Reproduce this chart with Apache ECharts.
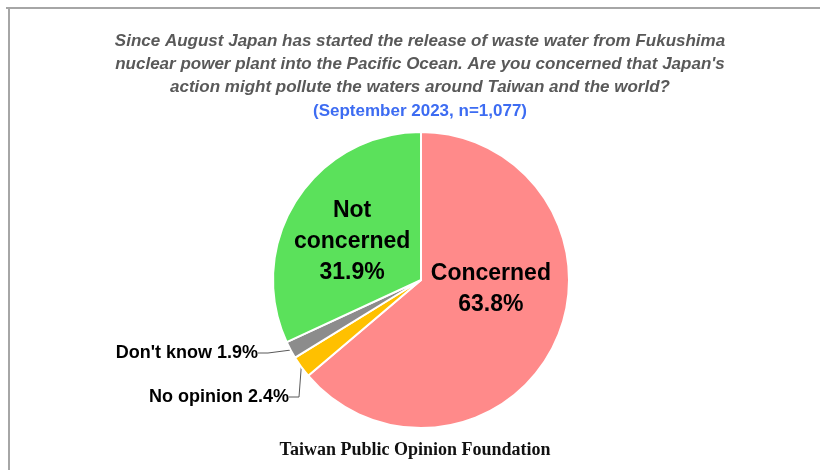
<!DOCTYPE html>
<html>
<head>
<meta charset="utf-8">
<script src="https://cdn.jsdelivr.net/npm/echarts@6/dist/echarts.min.js"></script>
<style>
  html, body { margin: 0; padding: 0; background: #fff; }
  #chart { width: 820px; height: 470px; }
</style>
</head>
<body>
<div id="chart"></div>
<script>
const categories = ["Concerned", "No opinion", "Don't know", "Not concerned"]
const shares = [63.8, 2.4, 1.9, 31.9]
const sliceColors = ["#FF8A8A", "#FFC000", "#8C8C8C", "#5BE15B"]

const font = "'Liberation Sans', sans-serif"

const myChart = echarts.init(document.getElementById("chart"))

const data = categories.map((name, i) => {
  const item = {name, value: shares[i], itemStyle: {color: sliceColors[i]}}
  if (i === 0) {
    item.label = {position: "inside", offset: [0, -23], formatter: "{b}\n{c}%", fontSize: 23, lineHeight: 31}
  } else if (i === 3) {
    item.label = {position: "inside", offset: [-4, 3], formatter: "Not\nconcerned\n{c}%", fontSize: 23, lineHeight: 31}
  } else {
    item.label = {position: "outside", formatter: "{b} {c}%", fontSize: 18}
    item.labelLine = {show: true, length: 10, length2: 10, lineStyle: {color: "#595959", width: 1}}
  }
  return item
})

const option = {
  animation: false,
  backgroundColor: "#fff",
  title: {
    text: "Since August Japan has started the release of waste water from Fukushima\nnuclear power plant into the Pacific Ocean. Are you concerned that Japan's\naction might pollute the waters around Taiwan and the world?",
    subtext: "(September 2023, n=1,077)",
    left: 415,
    top: 25,
    textAlign: "center",
    itemGap: 4,
    textStyle: {
      fontFamily: font,
      fontStyle: "italic",
      fontWeight: "bold",
      fontSize: 17,
      lineHeight: 23,
      color: "#595959"
    },
    subtextStyle: {
      fontFamily: font,
      fontWeight: "bold",
      fontSize: 17,
      color: "#3D6CF2"
    }
  },
  graphic: [
    {type: "line", shape: {x1: 6, y1: 8, x2: 820, y2: 8}, style: {stroke: "#A6A6A6", lineWidth: 2}},
    {type: "line", shape: {x1: 9, y1: 8, x2: 9, y2: 470}, style: {stroke: "#A6A6A6", lineWidth: 2}},
    {
      type: "text", x: 415, y: 450,
      style: {
        text: "Taiwan Public Opinion Foundation",
        font: "bold 18px 'Liberation Serif', serif",
        fill: "#111",
        align: "center",
        verticalAlign: "middle"
      }
    }
  ],
  series: [
    {
      type: "pie",
      center: [421, 280],
      radius: [0, 148],
      startAngle: 90,
      clockwise: true,
      data,
      itemStyle: {borderColor: "#fff", borderWidth: 2},
      label: {
        color: "#000",
        fontFamily: font,
        fontWeight: "bold"
      },
      labelLayout: function (params) {
        if (params.dataIndex === 2) {
          return {x: 258, y: 353, align: "right", verticalAlign: "middle"}
        }
        if (params.dataIndex === 1) {
          return {x: 289, y: 397, align: "right", verticalAlign: "middle"}
        }
        return {}
      },
      emphasis: {disabled: true}
    }
  ]
}
myChart.setOption(option)
</script>
</body>
</html>
